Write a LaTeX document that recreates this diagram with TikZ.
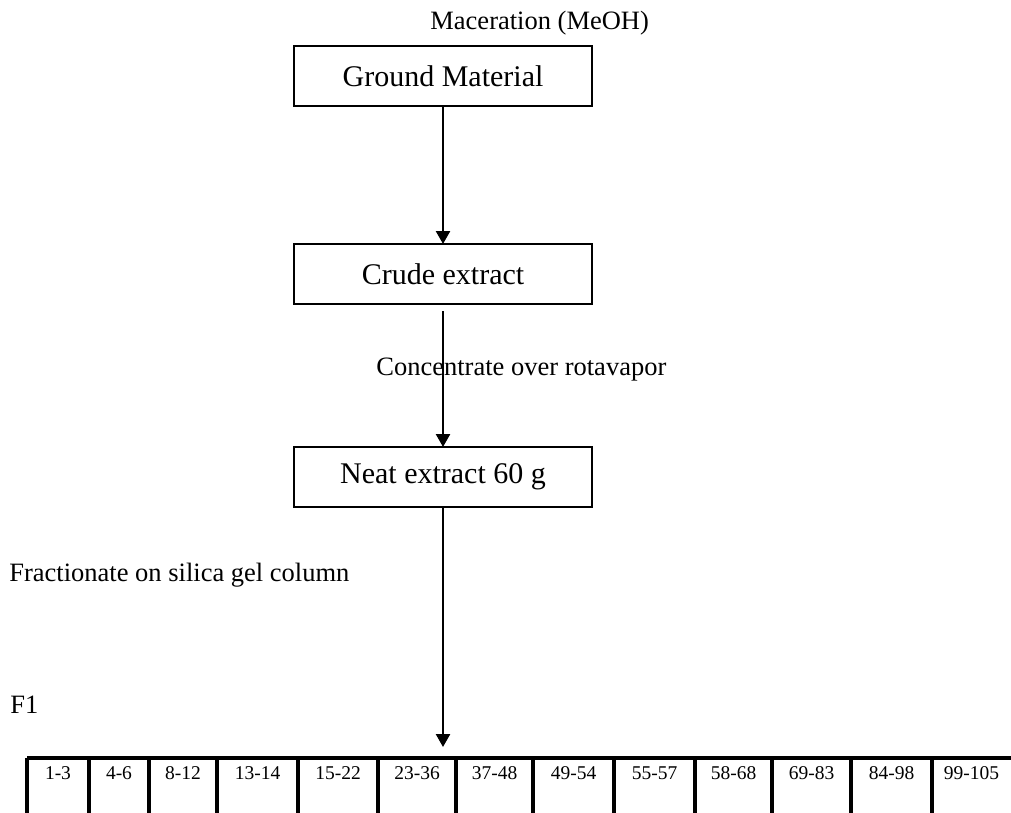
\documentclass[tikz,border=0pt]{standalone}
\usepackage{fontspec}
\setmainfont{Liberation Serif}
\usetikzlibrary{positioning,arrows.meta}

\begin{document}
\begin{tikzpicture}[x=1pt, y=-1pt, thick,
  main/.style = {draw, line width=1.8pt, outer sep=0pt, inner sep=0pt, minimum width=298pt, minimum height=60pt, font=\fontsize{30}{36}\selectfont},
  lbl/.style = {anchor=base west, inner sep=0pt, font=\fontsize{26.5}{32}\selectfont},
  flow/.style = {-{Triangle[length=13pt,width=14pt]}, line width=2.5pt},
  cell/.style = {anchor=base, inner sep=0pt, font=\fontsize{19.5}{23}\selectfont}]
\useasboundingbox (0,0) rectangle (1011,813);
		\node[main] (1) at (443,76) {Ground Material};
		\node[main] (2) [below=138pt of 1] {Crude extract};
		\node[main] (3) [below=143pt of 2] {Neat extract 60 g};
		\coordinate (4) at (443,758);
		\node[lbl] (mac) at (430,30) {Maceration (MeOH)};
		\node[lbl] (conc) at (376,375) {Concentrate over rotavapor};
		\node[lbl] (frac) at (9,581) {Fractionate on silica gel column};
		\node[lbl] (f1) at (10,713) {F1};
		\draw[flow] (1) -- (2);
		\draw[flow, shorten <=7pt] (2) -- (3);
		\draw[flow, shorten >=11pt] (3) -- (4);
		% fractions
		\draw[line width=3.3pt] (27,758) -- (1011,758);
		\foreach \a/\b/\t [count=\i] in {27/89/1-3, 89/149/4-6, 149/217/8-12, 217/298/13-14, 298/378/15-22, 378/456/23-36, 456/533/37-48, 533/614/49-54, 614/695/55-57, 695/772/58-68, 772/851/69-83, 851/932/84-98, 932/1011/99-105} {
			\draw[line width=3.3pt] (\a,758) -- (\a,813);
			\node[cell] (c\i) at ({(\a+\b)/2},779) {\t};
		}
		\end{tikzpicture}
\end{document}
